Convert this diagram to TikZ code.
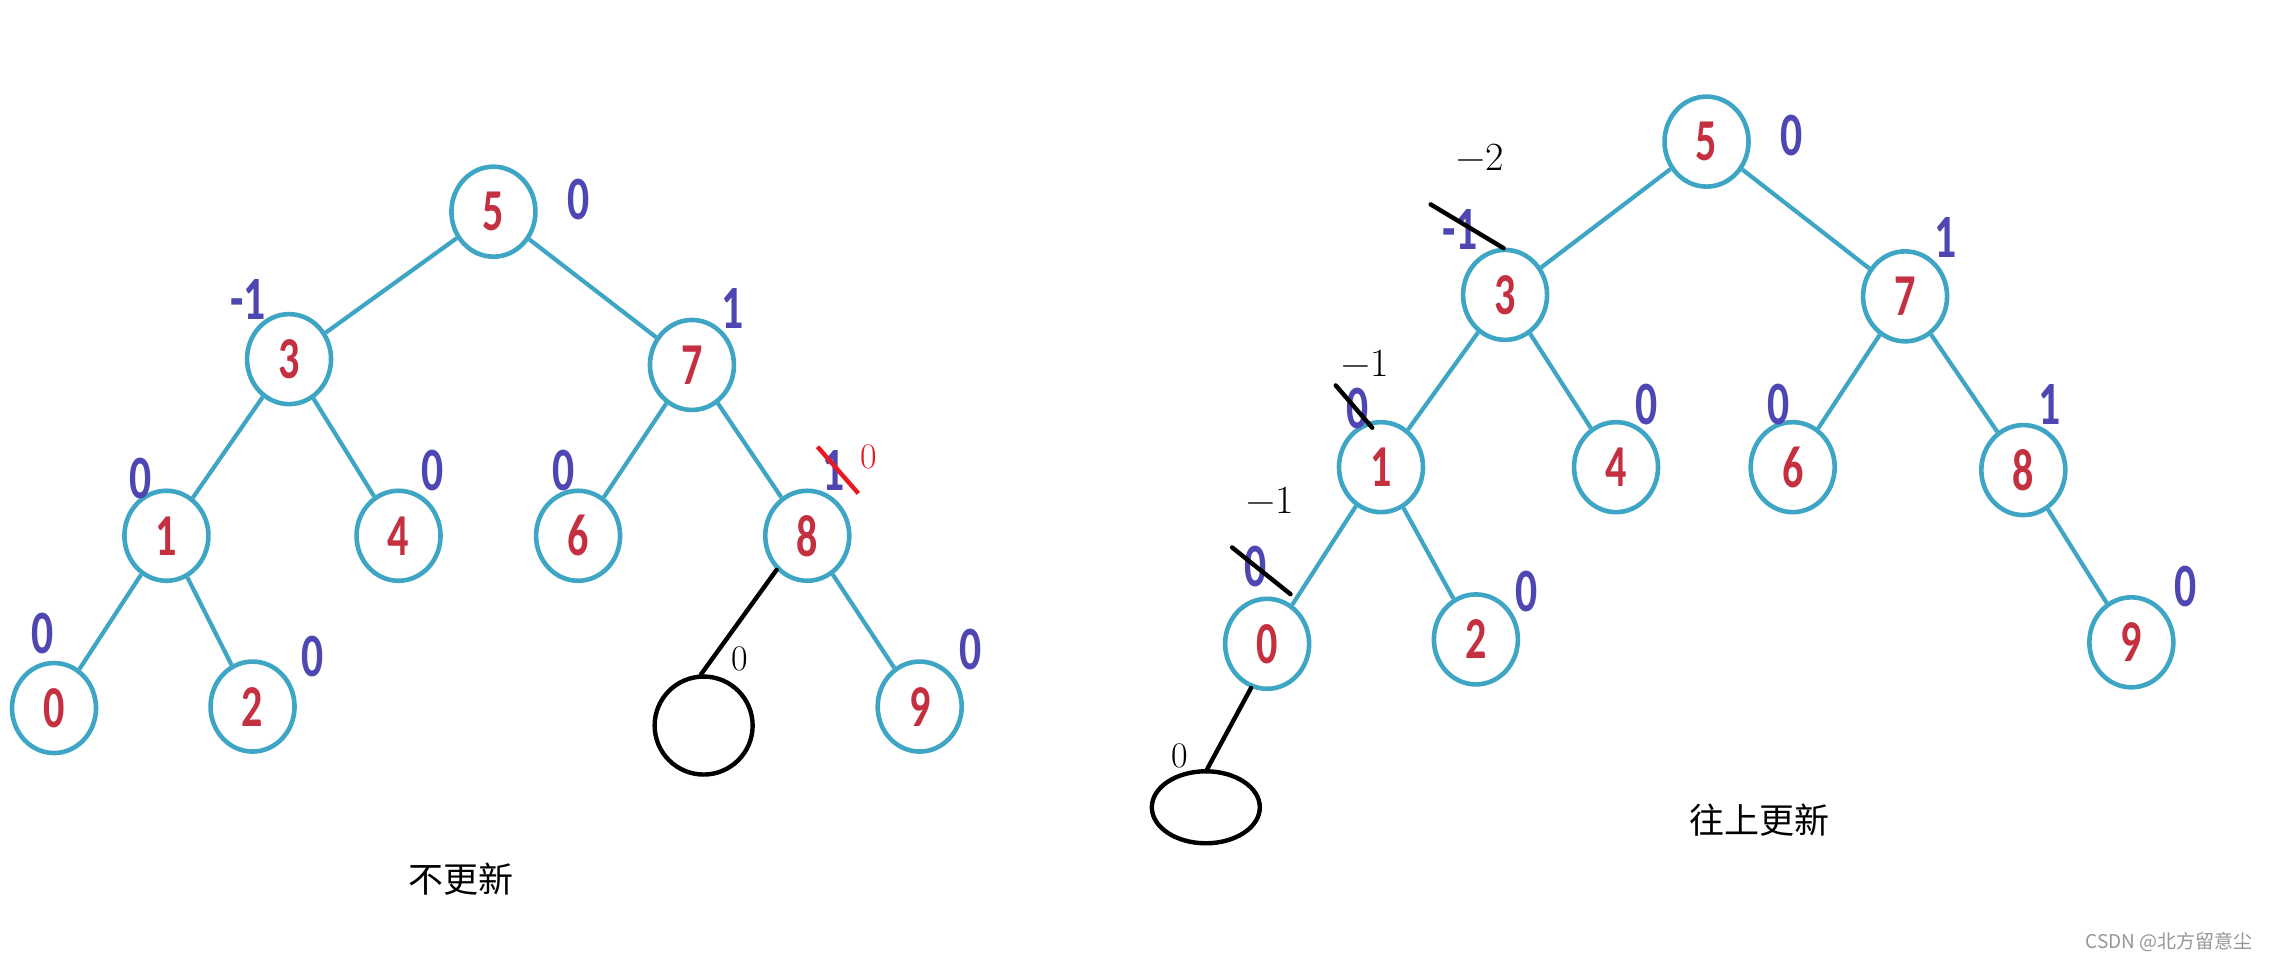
\documentclass[tikz,border=0pt]{standalone}
\usepackage{fontspec}
\usetikzlibrary{shapes.geometric}
\newfontfamily\digitfont{Carlito}
\newfontfamily\cjk{Noto Sans CJK SC}
\definecolor{teal1}{RGB}{62,166,196}
\definecolor{nred}{RGB}{196,48,64}
\definecolor{bblue}{RGB}{78,70,178}
\definecolor{ared}{RGB}{232,24,36}
\definecolor{wm}{RGB}{150,150,150}
\newcommand\cnum[1]{\scalebox{0.78}[1.1]{#1}}
\tikzset{
  tnode/.style={ellipse,draw=teal1,line width=4.6pt,minimum width=84pt,minimum height=90pt,inner sep=0pt,
    text=nred,font=\digitfont\bfseries\fontsize{54}{60}\selectfont},
  tedge/.style={draw=teal1,line width=4.2pt},
  bal/.style={text=bblue,font=\digitfont\bfseries\fontsize{56}{60}\selectfont,inner sep=0pt},
  anno/.style={text=black,font=\fontsize{40}{44}\selectfont,inner sep=0pt},
  anno0/.style={text=black,font=\fontsize{36}{40}\selectfont,inner sep=0pt},
  slash/.style={line width=4.4pt,line cap=round},
  newnode/.style={draw=black,line width=4.4pt,inner sep=0pt},
  captext/.style={font=\cjk\fontsize{35}{38}\selectfont,inner sep=0pt}
}
\begin{document}
\begin{tikzpicture}[x=1.4598pt,y=-1.4598pt]
\useasboundingbox[fill=white] (0,0) rectangle (1568,658);
% ---------- left tree ----------
\node[tnode] (L5) at (338,145) {\cnum{5}};
\node[tnode] (L3) at (198,246) {\cnum{3}};
\node[tnode] (L7) at (474,250) {\cnum{7}};
\node[tnode] (L1) at (114,367) {\cnum{1}};
\node[tnode] (L4) at (273,367) {\cnum{4}};
\node[tnode] (L6) at (396,367) {\cnum{6}};
\node[tnode] (L8) at (553,367) {\cnum{8}};
\node[tnode] (L0) at (37,485) {\cnum{0}};
\node[tnode] (L2) at (173,484) {\cnum{2}};
\node[tnode] (L9) at (630,484) {\cnum{9}};
\foreach \a/\b in {L5/L3,L5/L7,L3/L1,L3/L4,L7/L6,L7/L8,L1/L0,L1/L2,L8/L9}
  \draw[tedge] (\a) -- (\b);
\node[bal] (lb5) at (396,137) {\cnum{0}};
\node[bal] (lb3) at (170,205) {\cnum{-1}};
\node[bal] (lb7) at (502,211) {\cnum{1}};
\node[bal] (lb1) at (96,328) {\cnum{0}};
\node[bal] (lb4) at (296,322) {\cnum{0}};
\node[bal] (lb6) at (386,322) {\cnum{0}};
\node[bal] (lb8) at (571,322) {\cnum{1}};
\node[bal] (lb0) at (29,434) {\cnum{0}};
\node[bal] (lb2) at (214,450) {\cnum{0}};
\node[bal] (lb9) at (665,445) {\cnum{0}};
\coordinate (ls1) at (560,306);
\coordinate (ls2) at (588,338);
\draw[slash,draw=ared,line cap=butt] (ls1) -- (ls2);
\node[anno0,text=ared] (lr0) at (595,313) {0};
\node[newnode,circle,minimum size=98pt] (LN) at (482,497) {};
\draw[slash] (L8.228) -- (LN.93);
\node[anno0] (ln0) at (507,451) {0};
\node[captext] (capL) at (316,602) {不更新};
% ---------- right tree ----------
\node[tnode] (R5) at (1169,97) {\cnum{5}};
\node[tnode] (R3) at (1031,202) {\cnum{3}};
\node[tnode] (R7) at (1305,203) {\cnum{7}};
\node[tnode] (R1) at (946,320) {\cnum{1}};
\node[tnode] (R4) at (1107,320) {\cnum{4}};
\node[tnode] (R6) at (1228,320) {\cnum{6}};
\node[tnode] (R8) at (1386,322) {\cnum{8}};
\node[tnode] (R0) at (868,441) {\cnum{0}};
\node[tnode] (R2) at (1011,438) {\cnum{2}};
\node[tnode] (R9) at (1460,440) {\cnum{9}};
\foreach \a/\b in {R5/R3,R5/R7,R3/R1,R3/R4,R7/R6,R7/R8,R1/R0,R1/R2,R8/R9}
  \draw[tedge] (\a) -- (\b);
\node[bal] (rb5) at (1227,93) {\cnum{0}};
\node[bal] (rb3) at (1000,157) {\cnum{-1}};
\node[bal] (rb7) at (1333,163) {\cnum{1}};
\node[bal] (rb1) at (930,280) {\cnum{0}};
\node[bal] (rb4) at (1128,277) {\cnum{0}};
\node[bal] (rb6) at (1218,277) {\cnum{0}};
\node[bal] (rb8) at (1404,277) {\cnum{1}};
\node[bal] (rb0) at (860,388) {\cnum{0}};
\node[bal] (rb2) at (1046,405) {\cnum{0}};
\node[bal] (rb9) at (1497,402) {\cnum{0}};
\coordinate (rs1a) at (980,140);
\coordinate (rs1b) at (1030,170);
\draw[slash] (rs1a) -- (rs1b);
\node[anno] (rm2) at (1014,108) {−2};
\coordinate (rs2a) at (915,264);
\coordinate (rs2b) at (940,293);
\draw[slash] (rs2a) -- (rs2b);
\node[anno] (rm1a) at (935,249) {−1};
\coordinate (rs3a) at (844,375);
\coordinate (rs3b) at (884,407);
\draw[slash] (rs3a) -- (rs3b);
\node[anno] (rm1b) at (870,343) {−1};
\node[newnode,ellipse,minimum width=108pt,minimum height=72pt] (RN) at (826,553) {};
\draw[slash] (R0.250) -- (RN.88);
\node[anno0] (rn0) at (808,518) {0};
\node[captext] (capR) at (1205,562) {往上更新};
\node[font=\fontsize{19}{22}\selectfont\cjk,text=wm,inner sep=0pt] (wmk) at (1486,645) {CSDN @北方留意尘};
\end{tikzpicture}
\end{document}
